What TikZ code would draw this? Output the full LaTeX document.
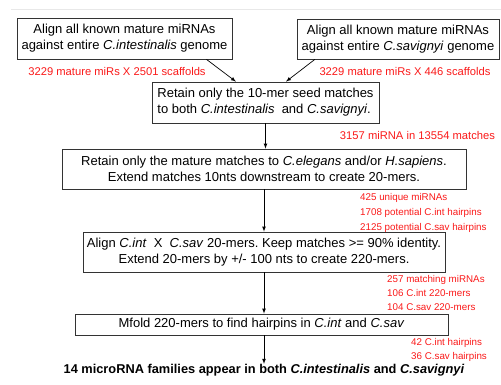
\documentclass[tikz,border=0pt]{standalone}
\usepackage{fontspec}
\setmainfont{Liberation Sans}
\usetikzlibrary{positioning}
\usetikzlibrary{arrows}
\usetikzlibrary{calc}
\definecolor{countred}{RGB}{250,25,25}
\definecolor{rulegray}{RGB}{232,232,232}
\frenchspacing

\begin{document}
\begin{tikzpicture}[x=1pt, y=-1pt, >=latex,
step box/.style={draw=black!80, line width=0.8pt, align=center, inner sep=0pt,
  font=\fontsize{13}{16}\selectfont},
count/.style={text=countred, font=\fontsize{11.2}{15}\selectfont, inner sep=0pt},
flow/.style={->, line width=0.7pt}]
\useasboundingbox (0,0) rectangle (501,385);

% faint rule along the top
\draw[rulegray, line width=0.8pt] (11,9) -- (501,9);

%%%%%%%%%%%%%%%%%%%%%%%% boxes
\node [step box, minimum width=215pt, minimum height=41pt] (cint) at (124.5,38.5)
  {Align all known mature miRNAs\\against entire \textit{C.intestinalis} genome};
\node [step box, minimum width=202pt, minimum height=40pt] (csav) at (398,39)
  {Align all known mature miRNAs\\against entire \textit{C.savignyi} genome};
\node [step box, minimum width=227pt, minimum height=41pt, align=left] (seed) at (265.5,102.5)
  {Retain only the 10-mer seed matches\\to both \textit{C.intestinalis}\ \ and \textit{C.savignyi}.};
\node [step box, minimum width=404pt, minimum height=40pt] (mature) at (264,169)
  {Retain only the mature matches to \textit{C.elegans} and/or \textit{H.sapiens}.\\Extend matches 10nts downstream to create 20-mers.};
\node [step box, minimum width=362pt, minimum height=40pt] (align) at (264,252)
  {Align \textit{C.int}\ \ X\ \ \textit{C.sav} 20-mers. Keep matches >= 90\% identity.\\Extend 20-mers by +/- 100 nts to create 220-mers.};
\node [step box, minimum width=373pt, minimum height=21pt] (mfold) at (261.5,324.5)
  {Mfold 220-mers to find hairpins in \textit{C.int} and \textit{C.sav}};
\node [font=\fontsize{12.8}{15}\selectfont\bfseries, inner sep=0pt] (result) at (264,370)
  {14 microRNA families appear in both \textit{C.intestinalis} and \textit{C.savignyi}};

%%%%%%%%%%%%%%%%%%%%%%%% counts
\node [count] (ncint) at (117,71) {3229 mature miRs X 2501 scaffolds};
\node [count] (ncsav) at (405,71) {3229 mature miRs X 446 scaffolds};
\node [count] (nseed) at (417.5,135) {3157 miRNA in 13554 matches};
\node [count, anchor=north west, align=left, font=\fontsize{9.8}{15}\selectfont] (nmature) at (360,193.5)
  {425 unique miRNAs\\1708 potential C.int hairpins\\2125 potential C.sav hairpins};
\node [count, anchor=north west, align=left, font=\fontsize{9.8}{14}\selectfont] (nalign) at (387,275.5)
  {257 matching miRNAs\\106 C.int 220-mers\\104 C.sav 220-mers};
\node [count, anchor=north west, align=left, font=\fontsize{9.8}{14}\selectfont] (nmfold) at (411,338.5)
  {42 C.int hairpins\\36 C.sav hairpins};

%%%%%%%%%%%%%%%%%%%%%%%% arrows
\draw [flow] ($(cint.south west)!0.88!(cint.south east)$) -- ($(seed.north west)!0.37!(seed.north east)$);
\draw [flow] ($(csav.south west)!0.09!(csav.south east)$) -- ($(seed.north west)!0.59!(seed.north east)$);
\draw [flow] (seed.south) -- (seed.south |- mature.north);
\draw [flow] (mature.south) -- (mature.south |- align.north);
\draw [flow] (align.south) -- (align.south |- mfold.north);
\draw [flow] (mfold.south -| align.south) -- (align.south |- result.north);

\end{tikzpicture}
\end{document}
